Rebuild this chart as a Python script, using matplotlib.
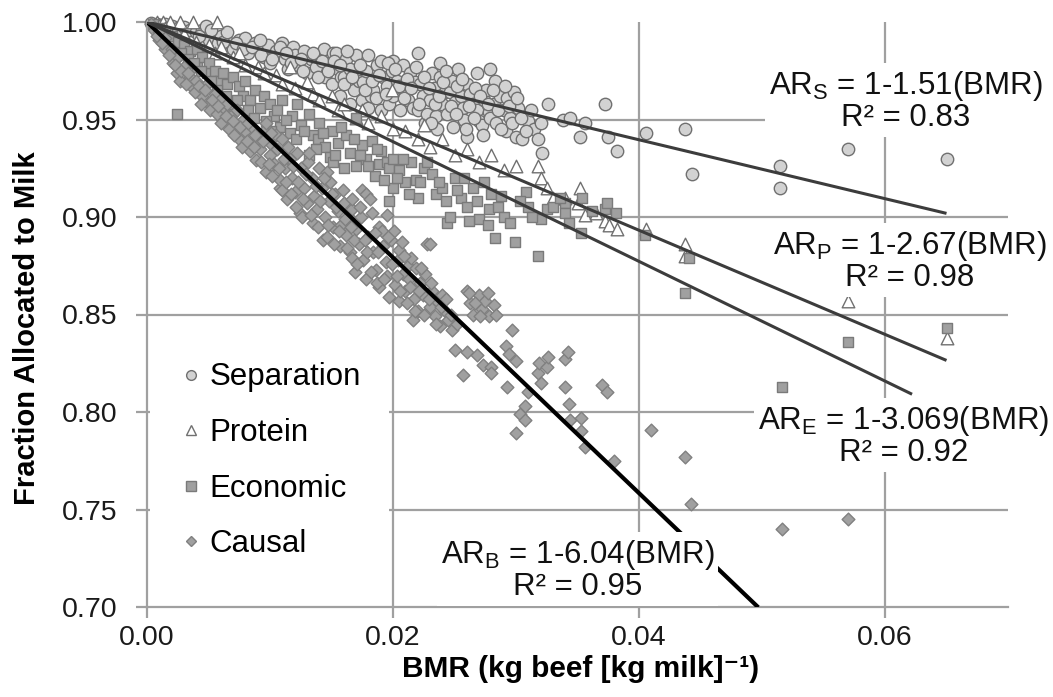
import matplotlib
matplotlib.use("Agg")
import matplotlib.pyplot as plt
from matplotlib.lines import Line2D
from matplotlib.patches import Rectangle

plt.rcParams['font.family'] = ['Liberation Sans', 'DejaVu Sans']
plt.rcParams['mathtext.fontset'] = 'custom'
plt.rcParams['mathtext.rm'] = 'Liberation Sans'

# ---------------- data ----------------
series_names = ["Separation", "Protein", "Economic", "Causal"]

separation = [
    (0.0003, 0.9995), (0.0008, 0.999), (0.0012, 0.9985), (0.0015, 0.999), (0.002, 0.998), (0.0025, 0.997),
    (0.003, 0.9975), (0.0035, 0.996), (0.004, 0.995), (0.0045, 0.996), (0.005, 0.994), (0.005, 0.991),
    (0.0058, 0.989), (0.006, 0.993), (0.0067, 0.989), (0.007, 0.986), (0.0075, 0.991), (0.008, 0.992),
    (0.0082, 0.984), (0.0088, 0.989), (0.009, 0.986), (0.0095, 0.982), (0.0098, 0.988), (0.01, 0.979),
    (0.0105, 0.985), (0.011, 0.989), (0.0112, 0.981), (0.0115, 0.976), (0.0119, 0.987), (0.012, 0.983),
    (0.0123, 0.978), (0.0128, 0.985), (0.013, 0.974), (0.0133, 0.981), (0.0137, 0.977), (0.014, 0.983),
    (0.0144, 0.986), (0.0145, 0.972), (0.0148, 0.979), (0.0151, 0.984), (0.015, 0.968), (0.0154, 0.984),
    (0.0155, 0.976), (0.0157, 0.962), (0.0158, 0.972), (0.016, 0.972), (0.0162, 0.981), (0.0165, 0.976),
    (0.0165, 0.958), (0.0168, 0.965), (0.017, 0.983), (0.0172, 0.97), (0.0175, 0.96), (0.0176, 0.969),
    (0.0178, 0.975), (0.018, 0.983), (0.018, 0.956), (0.0182, 0.962), (0.0184, 0.965), (0.0187, 0.978),
    (0.019, 0.98), (0.019, 0.955), (0.0192, 0.972), (0.0195, 0.967), (0.0197, 0.958), (0.0199, 0.975),
    (0.02, 0.98), (0.02, 0.962), (0.0203, 0.97), (0.0206, 0.955), (0.0208, 0.978), (0.021, 0.965),
    (0.0212, 0.96), (0.0214, 0.974), (0.0216, 0.956), (0.0218, 0.969), (0.022, 0.984), (0.022, 0.955),
    (0.0222, 0.968), (0.0224, 0.962), (0.0226, 0.948), (0.0228, 0.953), (0.023, 0.96), (0.0232, 0.974),
    (0.0233, 0.966), (0.0235, 0.952), (0.0236, 0.945), (0.0238, 0.979), (0.0238, 0.972), (0.024, 0.958),
    (0.0242, 0.964), (0.0244, 0.953), (0.0246, 0.964), (0.0248, 0.97), (0.0249, 0.946), (0.025, 0.959),
    (0.0253, 0.976), (0.0255, 0.962), (0.0257, 0.956), (0.0258, 0.95), (0.026, 0.968), (0.026, 0.941),
    (0.0263, 0.963), (0.0265, 0.958), (0.0268, 0.974), (0.0268, 0.955), (0.027, 0.949), (0.0272, 0.947),
    (0.0274, 0.96), (0.0276, 0.965), (0.0278, 0.954), (0.0279, 0.976), (0.0279, 0.951), (0.0282, 0.958),
    (0.0283, 0.97), (0.0284, 0.948), (0.0287, 0.962), (0.029, 0.955), (0.0292, 0.944), (0.0293, 0.961),
    (0.0295, 0.951), (0.0298, 0.964), (0.03, 0.941), (0.0302, 0.956), (0.0305, 0.94), (0.031, 0.949),
    (0.0315, 0.945), (0.032, 0.948), (0.0321, 0.933), (0.0326, 0.958), (0.0338, 0.95), (0.0344, 0.951),
    (0.0352, 0.941), (0.0356, 0.948), (0.0372, 0.958), (0.0375, 0.941), (0.0382, 0.934), (0.0406, 0.943),
    (0.0437, 0.945), (0.0443, 0.922), (0.0515, 0.926), (0.0515, 0.915), (0.057, 0.935), (0.065, 0.930),
    (0.0042, 0.993), (0.0048, 0.998), (0.0052, 0.996), (0.0062, 0.99), (0.0065, 0.995), (0.0072, 0.989),
    (0.0078, 0.986), (0.0085, 0.987), (0.0092, 0.991), (0.0093, 0.983), (0.0102, 0.981), (0.0108, 0.987),
    (0.0113, 0.984), (0.0117, 0.979), (0.0125, 0.981), (0.0127, 0.975), (0.0135, 0.984), (0.0139, 0.972),
    (0.0142, 0.98), (0.0147, 0.975), (0.0152, 0.98), (0.0157, 0.978), (0.016, 0.968), (0.0163, 0.985),
    (0.0167, 0.972), (0.0173, 0.978), (0.0177, 0.965), (0.0183, 0.97), (0.0186, 0.961), (0.0189, 0.973),
    (0.0194, 0.963), (0.0196, 0.979), (0.0202, 0.976), (0.0205, 0.967), (0.0209, 0.961), (0.0211, 0.971),
    (0.0215, 0.966), (0.0219, 0.977), (0.0221, 0.958), (0.0225, 0.972), (0.0229, 0.966), (0.0231, 0.948),
    (0.0234, 0.958), (0.0237, 0.962), (0.0241, 0.969), (0.0243, 0.975), (0.0247, 0.957), (0.0251, 0.953),
    (0.0252, 0.967), (0.0256, 0.971), (0.0259, 0.945), (0.0262, 0.957), (0.0266, 0.951), (0.0267, 0.966),
    (0.0271, 0.962), (0.0273, 0.942), (0.0277, 0.958), (0.0281, 0.965), (0.0285, 0.955), (0.0288, 0.945),
    (0.0291, 0.967), (0.0294, 0.957), (0.0297, 0.948), (0.0301, 0.961), (0.0304, 0.951), (0.0308, 0.944),
    (0.0312, 0.955), (0.0318, 0.94),
]

protein = [
    (0.0008, 1.0), (0.0013, 1.0), (0.0019, 1.0), (0.0027, 1.0), (0.0037, 1.0), (0.0057, 1.0),
    (0.0015, 0.997), (0.003, 0.994), (0.004, 0.99), (0.005, 0.988), (0.0055, 0.984), (0.006, 0.987),
    (0.007, 0.982), (0.0075, 0.984), (0.008, 0.978), (0.009, 0.977), (0.0095, 0.974), (0.0105, 0.973),
    (0.011, 0.968), (0.0116, 0.977), (0.012, 0.966), (0.013, 0.969), (0.0135, 0.963), (0.014, 0.96),
    (0.015, 0.962), (0.0155, 0.955), (0.016, 0.958), (0.017, 0.951), (0.0175, 0.955), (0.018, 0.948),
    (0.019, 0.952), (0.0199, 0.965), (0.02, 0.945), (0.021, 0.944), (0.022, 0.94), (0.0225, 0.947),
    (0.023, 0.936), (0.024, 0.94), (0.025, 0.932), (0.026, 0.935), (0.027, 0.928), (0.028, 0.932),
    (0.029, 0.924), (0.030, 0.926), (0.0318, 0.926), (0.032, 0.92), (0.0325, 0.915), (0.033, 0.91),
    (0.034, 0.91), (0.0352, 0.915), (0.035, 0.907), (0.0356, 0.901), (0.0365, 0.902), (0.0372, 0.898),
    (0.0376, 0.896), (0.0382, 0.894), (0.0406, 0.894), (0.0437, 0.886), (0.0437, 0.88), (0.0516, 0.864),
    (0.057, 0.857), (0.065, 0.838),
]

economic = [
    (0.0005, 0.999), (0.001, 0.997), (0.0015, 0.995), (0.002, 0.993), (0.0024, 0.953), (0.0025, 0.99),
    (0.003, 0.988), (0.0035, 0.985), (0.0041, 0.986), (0.0041, 0.977), (0.0045, 0.982), (0.0049, 0.974),
    (0.005, 0.979), (0.0055, 0.975), (0.0059, 0.97), (0.0062, 0.974), (0.0065, 0.968), (0.007, 0.972),
    (0.0075, 0.967), (0.0078, 0.962), (0.008, 0.97), (0.0084, 0.96), (0.0088, 0.965), (0.0092, 0.956),
    (0.0095, 0.962), (0.01, 0.958), (0.0103, 0.952), (0.0108, 0.946), (0.011, 0.96), (0.0116, 0.943),
    (0.0118, 0.952), (0.0122, 0.958), (0.0125, 0.947), (0.0132, 0.953), (0.0132, 0.932), (0.0135, 0.942),
    (0.0139, 0.94), (0.014, 0.948), (0.0145, 0.936), (0.0149, 0.931), (0.015, 0.944), (0.0151, 0.928),
    (0.0155, 0.938), (0.0162, 0.942), (0.0165, 0.933), (0.017, 0.951), (0.017, 0.926), (0.0175, 0.937),
    (0.0178, 0.93), (0.0183, 0.939), (0.0185, 0.921), (0.0189, 0.927), (0.019, 0.934), (0.0195, 0.928),
    (0.0197, 0.925), (0.0197, 0.908), (0.02, 0.93), (0.02, 0.915), (0.0205, 0.924), (0.021, 0.918),
    (0.0215, 0.928), (0.0219, 0.919), (0.022, 0.91), (0.0225, 0.925), (0.0232, 0.922), (0.0235, 0.912),
    (0.024, 0.915), (0.0244, 0.897), (0.0246, 0.90), (0.025, 0.92), (0.0255, 0.91), (0.026, 0.905),
    (0.0265, 0.915), (0.027, 0.899), (0.0277, 0.896), (0.0278, 0.904), (0.028, 0.912), (0.0283, 0.889),
    (0.0285, 0.905), (0.029, 0.9), (0.0299, 0.887), (0.0308, 0.913), (0.031, 0.905), (0.0318, 0.88),
    (0.032, 0.899), (0.0325, 0.904), (0.034, 0.907), (0.034, 0.902), (0.0343, 0.897), (0.0353, 0.892),
    (0.0354, 0.91), (0.0372, 0.904), (0.0374, 0.907), (0.0381, 0.902), (0.0405, 0.891), (0.0441, 0.879),
    (0.0437, 0.861), (0.0516, 0.866), (0.0516, 0.813), (0.057, 0.836), (0.065, 0.843),
    (0.0028, 0.984), (0.0033, 0.981), (0.0038, 0.979), (0.0044, 0.975), (0.0052, 0.97), (0.0057, 0.965),
    (0.0064, 0.962), (0.0068, 0.958), (0.0073, 0.96), (0.0082, 0.955), (0.0087, 0.951), (0.0097, 0.949),
    (0.0101, 0.944), (0.0106, 0.955), (0.0113, 0.95), (0.0121, 0.94), (0.0128, 0.944), (0.0137, 0.935),
    (0.0143, 0.943), (0.0153, 0.932), (0.0158, 0.946), (0.016, 0.925), (0.0168, 0.94), (0.0173, 0.932),
    (0.018, 0.926), (0.0187, 0.935), (0.0193, 0.919), (0.0203, 0.92), (0.0208, 0.93), (0.0213, 0.912),
    (0.0222, 0.918), (0.0228, 0.928), (0.0237, 0.918), (0.0243, 0.908), (0.0252, 0.914), (0.0258, 0.92),
    (0.0262, 0.898), (0.0268, 0.908), (0.0274, 0.918), (0.0288, 0.911), (0.0295, 0.897), (0.0303, 0.908),
    (0.0313, 0.9), (0.033, 0.905), (0.0336, 0.91), (0.0362, 0.903),
]

causal = [
    (0.0003, 0.999), (0.0006, 0.996), (0.001, 0.991), (0.001, 0.995), (0.0015, 0.986), (0.0015, 0.992),
    (0.0021, 0.979), (0.002, 0.986), (0.0024, 0.974), (0.0025, 0.982), (0.0027, 0.970), (0.003, 0.977),
    (0.0035, 0.972), (0.0037, 0.966), (0.004, 0.97), (0.0045, 0.962), (0.0049, 0.968), (0.005, 0.958),
    (0.0051, 0.955), (0.0055, 0.963), (0.0059, 0.96), (0.0062, 0.955), (0.0062, 0.95), (0.0065, 0.958),
    (0.0068, 0.952), (0.0073, 0.955), (0.0073, 0.946), (0.0075, 0.94), (0.0078, 0.95), (0.008, 0.944),
    (0.0084, 0.934), (0.0085, 0.946), (0.0089, 0.929), (0.009, 0.94), (0.0092, 0.935), (0.0095, 0.944),
    (0.0097, 0.923), (0.0097, 0.948), (0.01, 0.932), (0.01, 0.938), (0.0103, 0.927), (0.0105, 0.942),
    (0.0108, 0.915), (0.0108, 0.919), (0.011, 0.914), (0.011, 0.94), (0.0112, 0.925), (0.0114, 0.909),
    (0.0116, 0.93), (0.0118, 0.92), (0.012, 0.913), (0.0122, 0.933), (0.0124, 0.902), (0.0125, 0.925),
    (0.0126, 0.90), (0.0128, 0.915), (0.013, 0.907), (0.0131, 0.928), (0.0132, 0.933), (0.0134, 0.92),
    (0.0135, 0.897), (0.0136, 0.911), (0.0138, 0.904), (0.014, 0.925), (0.0142, 0.915), (0.0143, 0.888),
    (0.0145, 0.9), (0.0146, 0.89), (0.0146, 0.923), (0.0148, 0.908), (0.0149, 0.918), (0.0151, 0.895),
    (0.0153, 0.912), (0.0155, 0.903), (0.0157, 0.885), (0.0158, 0.896), (0.0159, 0.914), (0.016, 0.907),
    (0.0162, 0.891), (0.0164, 0.9), (0.0165, 0.882), (0.0167, 0.879), (0.0167, 0.904), (0.0167, 0.909),
    (0.0169, 0.872), (0.017, 0.894), (0.0172, 0.886), (0.0174, 0.9), (0.0175, 0.914), (0.0176, 0.878),
    (0.0178, 0.868), (0.0178, 0.912), (0.018, 0.89), (0.0181, 0.909), (0.0183, 0.902), (0.0184, 0.882),
    (0.0186, 0.873), (0.0189, 0.864), (0.0189, 0.895), (0.0191, 0.893), (0.0192, 0.885), (0.0194, 0.877),
    (0.0195, 0.901), (0.0195, 0.87), (0.0197, 0.859), (0.0198, 0.888), (0.0201, 0.893), (0.0202, 0.865),
    (0.0204, 0.878), (0.0205, 0.857), (0.0205, 0.883), (0.0207, 0.887), (0.0208, 0.871), (0.021, 0.862),
    (0.0212, 0.875), (0.0213, 0.868), (0.0215, 0.879), (0.0216, 0.847), (0.0217, 0.858), (0.0219, 0.874),
    (0.022, 0.852), (0.0222, 0.866), (0.0224, 0.86), (0.0226, 0.871), (0.0228, 0.886), (0.023, 0.886),
    (0.023, 0.854), (0.0232, 0.862), (0.0234, 0.849), (0.0236, 0.857), (0.0238, 0.844), (0.024, 0.86),
    (0.0242, 0.852), (0.0245, 0.847), (0.0248, 0.842), (0.025, 0.832), (0.0257, 0.819), (0.026, 0.831),
    (0.026, 0.862), (0.0263, 0.856), (0.0265, 0.85), (0.0268, 0.829), (0.027, 0.86), (0.0272, 0.853),
    (0.0273, 0.824), (0.0275, 0.857), (0.0278, 0.849), (0.028, 0.823), (0.028, 0.82), (0.0282, 0.855),
    (0.0284, 0.85), (0.0292, 0.834), (0.0293, 0.813), (0.0294, 0.83), (0.0297, 0.842), (0.03, 0.826),
    (0.03, 0.789), (0.0303, 0.799), (0.0307, 0.803), (0.0307, 0.796), (0.031, 0.81), (0.0318, 0.82),
    (0.0319, 0.825), (0.032, 0.815), (0.0325, 0.823), (0.0326, 0.828), (0.034, 0.813), (0.034, 0.827),
    (0.0342, 0.831), (0.0343, 0.804), (0.0344, 0.796), (0.0353, 0.79), (0.0353, 0.797), (0.0356, 0.782),
    (0.037, 0.814), (0.0374, 0.81), (0.038, 0.775), (0.041, 0.791), (0.0437, 0.777), (0.0442, 0.753),
    (0.0516, 0.740), (0.057, 0.745),
    (0.0008, 0.993), (0.0012, 0.989), (0.0018, 0.983), (0.0023, 0.978), (0.0028, 0.975), (0.0032, 0.968),
    (0.0033, 0.974), (0.0039, 0.964), (0.0042, 0.967), (0.0044, 0.958), (0.0047, 0.965), (0.0053, 0.96),
    (0.0057, 0.953), (0.0058, 0.957), (0.006, 0.948), (0.0064, 0.952), (0.0067, 0.945), (0.007, 0.949),
    (0.0071, 0.942), (0.0076, 0.946), (0.0077, 0.936), (0.0081, 0.939), (0.0082, 0.948), (0.0087, 0.936),
    (0.0088, 0.942), (0.0093, 0.928), (0.0094, 0.939), (0.0099, 0.927), (0.0101, 0.943), (0.0102, 0.921),
    (0.0106, 0.935), (0.0107, 0.925), (0.0111, 0.93), (0.0113, 0.918), (0.0115, 0.936), (0.0117, 0.912),
    (0.0119, 0.926), (0.0121, 0.905), (0.0123, 0.918), (0.0127, 0.909), (0.0129, 0.922), (0.0133, 0.901),
    (0.0137, 0.916), (0.0139, 0.895), (0.0141, 0.908), (0.0144, 0.92), (0.0147, 0.896), (0.015, 0.912),
    (0.0152, 0.886), (0.0154, 0.905), (0.0156, 0.893), (0.0161, 0.899), (0.0163, 0.884), (0.0166, 0.895),
    (0.0168, 0.888), (0.0171, 0.876), (0.0173, 0.905), (0.0177, 0.888), (0.0179, 0.882), (0.0182, 0.872),
    (0.0185, 0.892), (0.0187, 0.866), (0.0188, 0.882), (0.0193, 0.868), (0.0196, 0.89), (0.0199, 0.876),
    (0.0203, 0.87), (0.0206, 0.862), (0.0209, 0.88), (0.0211, 0.856), (0.0214, 0.864), (0.0218, 0.852),
    (0.0221, 0.862), (0.0223, 0.874), (0.0225, 0.85), (0.0229, 0.858), (0.0231, 0.866), (0.0235, 0.845),
    (0.0239, 0.854), (0.0243, 0.858), (0.0247, 0.85), (0.0252, 0.845), (0.0262, 0.861), (0.0267, 0.856),
    (0.0271, 0.849), (0.0277, 0.861),
]

# regression lines AR = 1 - slope * BMR
fit_labels = ["S", "P", "E", "B"]
fit_slopes = [1.51, 2.67, 3.069, 6.04]
fit_r2 = ["0.83", "0.98", "0.92", "0.95"]
fit_xmax = [0.065, 0.065, 0.0622, 0.0497]

x_ticks = [0.00, 0.02, 0.04, 0.06]
y_ticks = [0.70, 0.75, 0.80, 0.85, 0.90, 0.95, 1.00]

# ---------------- figure ----------------
W, H = 1053, 697
fig = plt.figure(figsize=(W / 100, H / 100), dpi=100)
L, R, T, B = 147, 1008, 22, 607
ax = fig.add_axes([L / W, (H - B) / H, (R - L) / W, (B - T) / H])
ax.set_xlim(0, 0.07)
ax.set_ylim(0.70, 1.00)

grid_c = '#a0a0a0'
for v in y_ticks[1:-1]:
    ax.axhline(v, color=grid_c, lw=1.6, zorder=0.5)
for v in x_ticks[1:]:
    ax.axvline(v, color=grid_c, lw=1.6, zorder=0.5)

for s in ['top', 'right']:
    ax.spines[s].set_visible(False)
for s in ['left', 'bottom']:
    ax.spines[s].set_color(grid_c)
    ax.spines[s].set_linewidth(1.6)

ax.set_xticks(x_ticks)
ax.set_xticklabels([f"{v:.2f}" for v in x_ticks])
ax.set_yticks(y_ticks)
ax.set_yticklabels([f"{v:.2f}" for v in y_ticks])
ax.tick_params(axis='both', direction='out', length=8, width=1.6, color=grid_c,
               labelsize=20.5, labelcolor='#1a1a1a')
ax.tick_params(axis='y', pad=13)
ax.tick_params(axis='x', pad=5)

styles = {
    "Separation": dict(marker='o', s=80, facecolor='#d2d2d2', edgecolor='#707070', linewidths=1.0),
    "Protein": dict(marker='^', s=82, facecolor='white', edgecolor='#707070', linewidths=1.0),
    "Economic": dict(marker='s', s=62, facecolor='#a0a0a0', edgecolor='#7a7a7a', linewidths=1.0),
    "Causal": dict(marker='D', s=42, facecolor='#a0a0a0', edgecolor='#808080', linewidths=1.0),
}
data = {"Separation": separation, "Protein": protein, "Economic": economic, "Causal": causal}
for name in series_names:
    pts = data[name]
    ax.scatter([p[0] for p in pts], [p[1] for p in pts], zorder=2, clip_on=False, **styles[name])

line_cols = ['#3c3c3c', '#3c3c3c', '#3c3c3c', '#000000']
line_w = [2.2, 2.2, 2.2, 3.0]
line_z = [6, 6, 6, 3]
for slope, xm, c, lw, z in zip(fit_slopes, fit_xmax, line_cols, line_w, line_z):
    ax.plot([0, xm], [1, 1 - slope * xm], color=c, lw=lw, zorder=z, solid_capstyle='butt')

# equation boxes
ann_pos = [(0.0617, 0.9595), (0.0620, 0.8774), (0.0615, 0.7877), (0.0350, 0.7190)]
for lab, slope, r2, (tx, ty) in zip(fit_labels, fit_slopes, fit_r2, ann_pos):
    txt = f"AR$_\\mathregular{{{lab}}}$ = 1-{slope:g}(BMR)\nR² = {r2}"
    ax.text(tx, ty, txt, ha='center', va='center', multialignment='center', fontsize=22.5,
            color='#111111', linespacing=0.98, zorder=5, clip_on=False,
            bbox=dict(facecolor='white', edgecolor='none', pad=3))

# legend with white box
ax.add_patch(Rectangle((0.0035, 0.012), 0.278, 0.47, transform=ax.transAxes,
                       facecolor='white', edgecolor='none', zorder=1.5))
handles = []
for name in series_names:
    st = styles[name]
    handles.append(Line2D([], [], linestyle='none', marker=st['marker'],
                          markersize=7 if st['marker'] != 'D' else 5.5,
                          markerfacecolor=st['facecolor'], markeredgecolor=st['edgecolor'],
                          markeredgewidth=1.0, label=name))
leg = ax.legend(handles=handles, loc='upper left', bbox_to_anchor=(0.040, 0.418), frameon=False,
                fontsize=22.5, labelspacing=0.82, handlelength=0.6, handletextpad=0.3,
                borderpad=0, borderaxespad=0)
leg.set_zorder(6)

ax.set_xlabel("BMR (kg beef [kg milk]⁻¹)", fontsize=21.5, fontweight='bold')
ax.xaxis.set_label_coords(0.503, -0.082)
ax.set_ylabel("Fraction Allocated to Milk", fontsize=21, fontweight='bold')
ax.yaxis.set_label_coords(-0.123, 0.477)

fig.savefig("out.png", dpi=100)
